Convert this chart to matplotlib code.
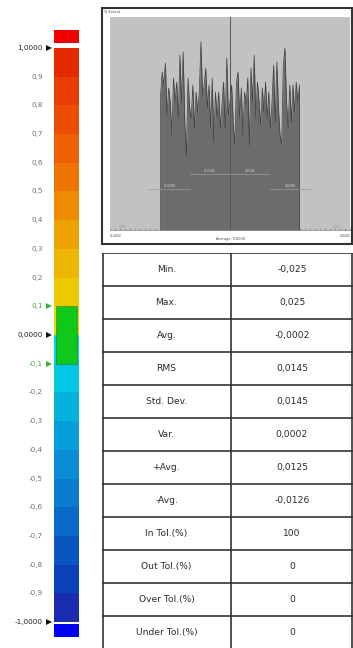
import numpy as np
import matplotlib
matplotlib.use('Agg')
import matplotlib.pyplot as plt
from matplotlib.patches import Rectangle

W, H = 353, 648

# escala de cores (limites das faixas e cores)
band_edges = np.round(np.arange(-1.0, 1.0001, 0.1), 2)
band_colors = ['#1a2cb0', '#0a40b8', '#0a56c0', '#0a6ac8', '#0a7ccf',
               '#0a8cd4', '#05a0da', '#04b2de', '#02c8e4', '#00d4e6',
               '#e6d800', '#ecc800', '#eeb600', '#eea200', '#ee8c00',
               '#ee7400', '#ec6000', '#ea4c00', '#e83c00', '#e62a00']
tick_values = [1.0, 0.9, 0.8, 0.7, 0.6, 0.5, 0.4, 0.3, 0.2, 0.1, 0.0,
               -0.1, -0.2, -0.3, -0.4, -0.5, -0.6, -0.7, -0.8, -0.9, -1.0]
tick_labels = ['1,0000', '0,9', '0,8', '0,7', '0,6', '0,5', '0,4', '0,3', '0,2', '0,1', '0,0000',
               '-0,1', '-0,2', '-0,3', '-0,4', '-0,5', '-0,6', '-0,7', '-0,8', '-0,9', '-1,0000']
tol_low, tol_high = -0.1, 0.1

# histograma (alturas)
hist_counts = [135, 158, 145, 167, 115, 142, 128, 95, 152, 128, 148, 112, 175, 128,
               178, 108, 75, 152, 122, 112, 145, 102, 138, 118, 138, 188, 135, 145,
               162, 122, 145, 102, 152, 88, 138, 112, 138, 102, 125, 148, 102, 172,
               115, 128, 145, 108, 85, 148, 158, 112, 142, 95, 138, 125, 152, 85,
               162, 128,
               175, 112, 148, 128, 105, 142, 118, 148, 112, 138, 102, 128, 165, 108,
               168, 122, 95, 85, 165, 182, 128, 102, 145, 108, 145, 118, 148, 128, 145]
hist_min, hist_max = -0.025, 0.025
x_limit = 0.0432
std_dev = 0.0145

# tabela
stat_names = ['Min.', 'Max.', 'Avg.', 'RMS', 'Std. Dev.', 'Var.', '+Avg.', '-Avg.',
              'In Tol.(%)', 'Out Tol.(%)', 'Over Tol.(%)', 'Under Tol.(%)']
stat_values = ['-0,025', '0,025', '-0,0002', '0,0145', '0,0145', '0,0002', '0,0125',
               '-0,0126', '100', '0', '0', '0']


def px(l, t, r, b):
    return [l / W, 1 - b / H, (r - l) / W, (b - t) / H]


fig = plt.figure(figsize=(W / 100, H / 100), dpi=100)
fig.patch.set_facecolor('white')

# ---- barra de cores ----
ax_c = fig.add_axes(px(0, 25, 100, 645))
ax_c.set_xlim(0, 100)
ax_c.set_ylim(-1.08, 1.08)
ax_c.axis('off')
bottoms = band_edges[:-1]
ax_c.bar(np.full(len(bottoms), 66.5), np.diff(band_edges), width=25, bottom=bottoms,
         color=band_colors, align='center', linewidth=0)
# blocos acima/abaixo do intervalo
ax_c.bar([66.5], [0.046], width=25, bottom=1.017, color='#f00000', linewidth=0)
ax_c.bar([66.5], [0.046], width=25, bottom=-1.052, color='#0000f0', linewidth=0)
# faixa de tolerancia
ax_c.add_patch(Rectangle((56, tol_low), 21, tol_high - tol_low, facecolor='#10c81a',
                         edgecolor='#335533', linewidth=0.6, linestyle=(0, (1, 1))))
for v, lab in zip(tick_values, tick_labels):
    green = abs(abs(v) - 0.1) < 1e-9
    bold = abs(v) in (0.0, 1.0)
    col = '#3cae3c' if green else ('#222222' if bold else '#707070')
    ax_c.text(43, v, lab, ha='right', va='center', fontsize=5.2, color=col)
    if green or bold:
        ax_c.plot([49], [v], marker='>', markersize=5, color='#3cae3c' if green else '#111111',
                  markeredgewidth=0)

# ---- histograma ----
fig.text(104 / W, 1 - 12 / H, '% Extent', fontsize=2.5, color='#444444', va='center')
ax_h = fig.add_axes(px(110, 17, 350, 230))
ax_h.set_facecolor('#c2c2c2')
xs = np.linspace(hist_min, hist_max, len(hist_counts))
xs_full = np.concatenate([[hist_min], xs, [hist_max]])
ys_full = np.concatenate([[0], hist_counts, [0]])
ax_h.fill_between(xs_full, ys_full, color='#6c6c6c', linewidth=0)
ax_h.plot(xs_full, ys_full, color='#3e3e3e', linewidth=0.5)
ax_h.axvline(0, color='#555555', linewidth=0.7)
ax_h.set_xlim(-x_limit, x_limit)
ax_h.set_ylim(0, 213)
for s in ax_h.spines.values():
    s.set_visible(False)
ax_h.spines['bottom'].set_visible(True)
ax_h.spines['bottom'].set_color('#777777')
ax_h.spines['bottom'].set_linewidth(0.5)
ax_h.set_xticks(np.linspace(-x_limit, x_limit, 49))
ax_h.set_yticks([])
ax_h.tick_params(axis='x', length=1.5, width=0.4, color='#777777', direction='in', labelbottom=False)
# linhas de desvio padrao
ax_h.plot([-std_dev, std_dev], [56, 56], color='#9a9a9a', linewidth=0.5)
ax_h.text(-std_dev / 2, 58, '-0,0145', fontsize=2.2, color='#dddddd', ha='center')
ax_h.text(std_dev / 2, 58, '0,0145', fontsize=2.2, color='#dddddd', ha='center')
ax_h.plot([-2 * std_dev, -std_dev], [41, 41], color='#9a9a9a', linewidth=0.5)
ax_h.plot([std_dev, 2 * std_dev], [41, 41], color='#9a9a9a', linewidth=0.5)
ax_h.text(-1.5 * std_dev, 43, '-0,0290', fontsize=2.2, color='#dddddd', ha='center')
ax_h.text(1.5 * std_dev, 43, '0,0290', fontsize=2.2, color='#dddddd', ha='center')
ax_h.text(-0.0385, 2, '0,0%', fontsize=2.2, color='#999999', ha='center')
ax_h.text(0.0385, 2, '0,0%', fontsize=2.2, color='#999999', ha='center')
ax_h.text(-x_limit, -4, '-0,0432', fontsize=2.2, color='#444444', ha='left', va='top')
ax_h.text(x_limit, -4, '0,0432', fontsize=2.2, color='#444444', ha='right', va='top')
ax_h.text(0, -7, 'Average: 0,0000', fontsize=2.5, color='#444444', ha='center', va='top')
# moldura do painel
fig.add_artist(Rectangle((102 / W, 1 - 244 / H), 250 / W, 236 / H, transform=fig.transFigure,
                         facecolor='none', edgecolor='#333333', linewidth=1.5, zorder=5))

# ---- tabela ----
ax_t = fig.add_axes(px(102, 253, 353, 649))
n = len(stat_names)
ax_t.set_xlim(0, 251)
ax_t.set_ylim(n, 0)
ax_t.axis('off')
for i in range(n + 1):
    ax_t.axhline(i, color='#333333', linewidth=1.2)
for xv in (0.6, 129, 250.4):
    ax_t.axvline(xv, color='#333333', linewidth=1.2)
for i, (name, val) in enumerate(zip(stat_names, stat_values)):
    ax_t.text(64.5, i + 0.5, name, ha='center', va='center', fontsize=6.6, color='#2a2a2a')
    ax_t.text(190, i + 0.5, val, ha='center', va='center', fontsize=6.6, color='#2a2a2a')

fig.savefig('out.png', dpi=100)
